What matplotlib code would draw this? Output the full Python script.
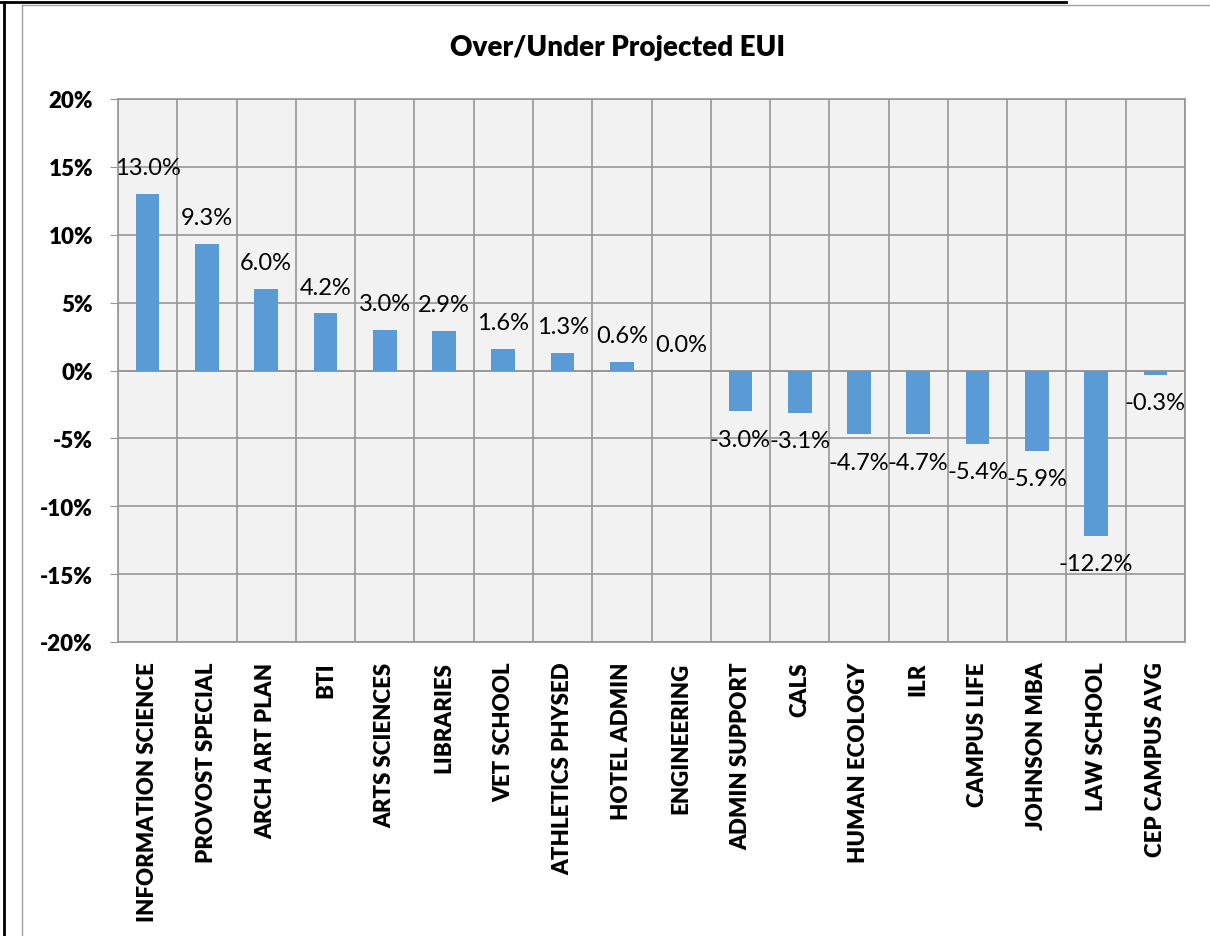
import matplotlib
matplotlib.use("Agg")
import matplotlib.pyplot as plt
from matplotlib.lines import Line2D
import numpy as np

plt.rcParams['font.family'] = ['Lato', 'DejaVu Sans']

# chart data
categories = ["INFORMATION SCIENCE", "PROVOST SPECIAL", "ARCH ART PLAN", "BTI",
              "ARTS SCIENCES", "LIBRARIES", "VET SCHOOL", "ATHLETICS PHYSED",
              "HOTEL ADMIN", "ENGINEERING", "ADMIN SUPPORT", "CALS",
              "HUMAN ECOLOGY", "ILR", "CAMPUS LIFE", "JOHNSON MBA",
              "LAW SCHOOL", "CEP CAMPUS AVG"]
values = [13.0, 9.3, 6.0, 4.2, 3.0, 2.9, 1.6, 1.3, 0.6, 0.0,
          -3.0, -3.1, -4.7, -4.7, -5.4, -5.9, -12.2, -0.3]
yticks = [-20, -15, -10, -5, 0, 5, 10, 15, 20]

grid_c = "#969696"
heavy = 800

fig = plt.figure(figsize=(12.1, 9.37), dpi=100)
ax = fig.add_axes([118/1210, 1 - 643/937, (1185-118)/1210, (643-100)/937])
ax.set_facecolor("#f2f2f2")

x = np.arange(len(categories))
ax.bar(x, values, width=0.4, color="#5b9bd5", zorder=3)

for xi, v in zip(x, values):
    off = 19 if v >= 0 else -20
    ax.annotate("%.1f%%" % v, (xi, v), xytext=(0, off), textcoords="offset points",
                ha="center", va="center", fontsize=17, color="black", zorder=4)

ax.set_xlim(-0.5, len(categories) - 0.5)
ax.set_ylim(-20, 20)
ax.set_yticks(yticks)
ax.set_yticklabels(["%d%%" % t for t in yticks], fontsize=16, fontweight=heavy)
ax.set_xticks(x)
ax.set_xticklabels(categories, rotation=90, fontsize=16, fontweight=heavy)
ax.tick_params(axis="y", length=6, color=grid_c, pad=12)
ax.tick_params(axis="x", length=0, pad=14)

ax.set_xticks(np.arange(-0.5, len(categories), 1), minor=True)
ax.tick_params(axis="x", which="minor", length=0)
ax.grid(True, which="minor", axis="x", color=grid_c, lw=1.2, zorder=0)
ax.grid(True, which="major", axis="y", color=grid_c, lw=1.2, zorder=0)
ax.axhline(0, color=grid_c, lw=1.2, zorder=2)
for s in ax.spines.values():
    s.set_color(grid_c)
    s.set_linewidth(1.2)

fig.text(618/1210, 1 - 48/937, "Over/Under Projected EUI", ha="center", va="center",
         fontsize=20, fontweight=heavy)

# outer frame bits
fig.add_artist(Line2D([22/1210, 22/1210], [0, 1 - 6/937], transform=fig.transFigure,
                      color="#a0a0a0", lw=1))
fig.add_artist(Line2D([22/1210, 1], [1 - 6/937, 1 - 6/937], transform=fig.transFigure,
                      color="#a0a0a0", lw=1))
fig.add_artist(Line2D([4/1210, 4/1210], [0, 1 - 3/937], transform=fig.transFigure,
                      color="black", lw=2))
fig.add_artist(Line2D([0, 1066/1210], [1 - 3/937, 1 - 3/937], transform=fig.transFigure,
                      color="black", lw=2))

fig.savefig("out.png", dpi=100)
